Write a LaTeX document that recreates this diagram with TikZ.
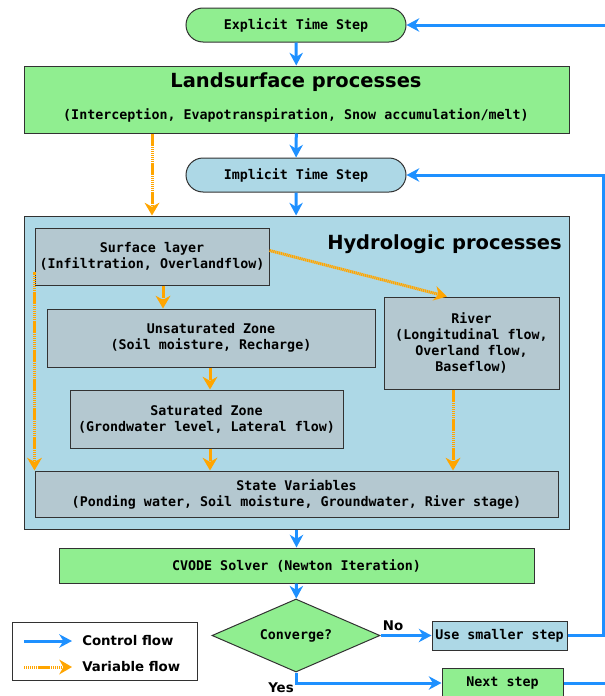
\documentclass[tikz,border=0pt]{standalone}
\usepackage{fontspec}
\setmainfont{DejaVu Sans}
\setmonofont{DejaVu Sans Mono}
\usepackage{tikz}
\usetikzlibrary{arrows.meta}
\usetikzlibrary{shapes.geometric}
\usetikzlibrary{shapes.misc}
\definecolor{dodgerblue}{RGB}{30,144,255}
\definecolor{palegreen}{RGB}{144,238,144}
\definecolor{paleblue}{RGB}{173,216,230}
\definecolor{zonegray}{RGB}{180,200,208}
\definecolor{edgegray}{RGB}{50,50,50}
\definecolor{amber}{RGB}{255,165,0}

\begin{document}
\begin{tikzpicture}[x=0.75pt,y=-0.75pt,
        base/.style={draw=edgegray,line width=0.75pt,inner sep=0pt,align=center,font=\ttfamily\bfseries\fontsize{10}{12}\selectfont},
        pill/.style={base,rounded rectangle,minimum width=165pt,minimum height=25.5pt},
        box/.style={base,rectangle},
        zone/.style={box,fill=zonegray},
        ctrl/.style={dodgerblue,line width=2.25pt,-{Stealth[length=9.5pt,width=10pt,inset=3pt]}},
        var/.style={amber,line width=2.25pt,dash pattern=on 1pt off 0.45pt,-{Stealth[length=9.5pt,width=11pt,inset=3pt]}},
        tag/.style={font=\bfseries\fontsize{10}{12}\selectfont,inner sep=0pt}]
        \useasboundingbox (0,0) rectangle (605,696);

        \node[pill,fill=palegreen] (explicit) at (296,25) {Explicit Time Step};
        \node[box,fill=palegreen,minimum width=408.75pt,minimum height=50.25pt] (landsurf) at (296.5,99.5) {};
        \node[font=\bfseries\fontsize{14.6}{17}\selectfont,inner sep=0pt] (lstitle) at (296,82) {Landsurface processes};
        \node[font=\ttfamily\bfseries\fontsize{10}{12}\selectfont,inner sep=0pt] (lssub) at (296,115) {(Interception, Evapotranspiration, Snow accumulation/melt)};
        \node[pill,fill=paleblue] (implicit) at (296,175) {Implicit Time Step};

        \node[box,fill=paleblue,minimum width=408.75pt,minimum height=234.75pt] (hydro) at (296.5,372.5) {};
        \node[font=\bfseries\fontsize{14.6}{17}\selectfont,inner sep=0pt,anchor=east] (hytitle) at (562,244) {Hydrologic processes};
        \node[zone,minimum width=175.5pt,minimum height=42.75pt] (surface) at (152,256.5) {Surface layer\\(Infiltration, Overlandflow)};
        \node[zone,minimum width=246pt,minimum height=43.5pt] (unsat) at (211,338) {Unsaturated Zone\\(Soil moisture, Recharge)};
        \node[zone,minimum width=204.75pt,minimum height=43.5pt] (sat) at (206.5,419) {Saturated Zone\\(Grondwater level, Lateral flow)};
        \node[zone,minimum width=131.25pt,minimum height=69pt] (river) at (471.5,343) {River\\(Longitudinal flow,\\Overland flow,\\Baseflow)};
        \node[zone,minimum width=392.25pt,minimum height=34.5pt] (state) at (296.5,494) {State Variables\\(Ponding water, Soil moisture, Groundwater, River stage)};

        \node[box,fill=palegreen,minimum width=356.25pt,minimum height=26.25pt] (cvode) at (296.5,565.5) {CVODE Solver (Newton Iteration)};
        \node[base,diamond,aspect=2.3,fill=palegreen,minimum width=126pt,minimum height=54.75pt] (conv) at (296,635.5) {Converge?};
        \node[box,fill=paleblue,minimum width=101.25pt,minimum height=21.75pt] (smaller) at (499.5,635.5) {Use smaller step};
        \node[box,fill=palegreen,minimum width=90.75pt,minimum height=22.5pt] (next) at (502.5,683) {Next step};

        \draw[ctrl] (explicit) -- (landsurf);
        \draw[ctrl] (landsurf) -- (implicit);
        \draw[ctrl] (implicit) -- (hydro);
        \draw[ctrl] (hydro) -- (cvode);
        \draw[ctrl] (cvode) -- (conv);
        \draw[ctrl] (conv.east) -- (smaller.west);
        \node[tag] (no) at (393,626) {No};
        \draw[ctrl] (conv.south) |- (next.west);
        \node[tag] (yes) at (281,688) {Yes};
        \coordinate (backA) at (603,175);
        \draw[ctrl] (smaller.east) -| (backA) -- (implicit.east);
        \coordinate (backB) at (625,25);
        \draw[ctrl] (next.east) -| (backB) -- (explicit.east);

        \draw[var] (landsurf.south -| surface.north) -- (hydro.north -| surface.north);
        \draw[var] ([yshift=4.5pt]surface.east) -- (river.north -| 447,0);
        \draw[var] (surface.south -| 163,0) -- (unsat.north -| 163,0);
        \draw[var] (unsat.south -| 210,0) -- (sat.north -| 210,0);
        \draw[var] (sat.south -| 210,0) -- (state.north -| 210,0);
        \draw[var] ([yshift=10pt]surface.south west) -- (state.north west);
        \draw[var] (river.south -| 453,0) -- (state.north -| 453,0);

        \node[box,fill=white,minimum width=138.75pt,minimum height=43.5pt] (legend) at (104.5,651) {};
        \coordinate (ctrlA) at (24,641);
        \coordinate (ctrlB) at (72,641);
        \draw[ctrl] (ctrlA) -- (ctrlB);
        \node[tag,anchor=west] (ctrltxt) at (82,641) {Control flow};
        \coordinate (varA) at (24,667);
        \coordinate (varB) at (72,667);
        \draw[var] (varA) -- (varB);
        \node[tag,anchor=west] (vartxt) at (82,667) {Variable flow};
\end{tikzpicture}
\end{document}
